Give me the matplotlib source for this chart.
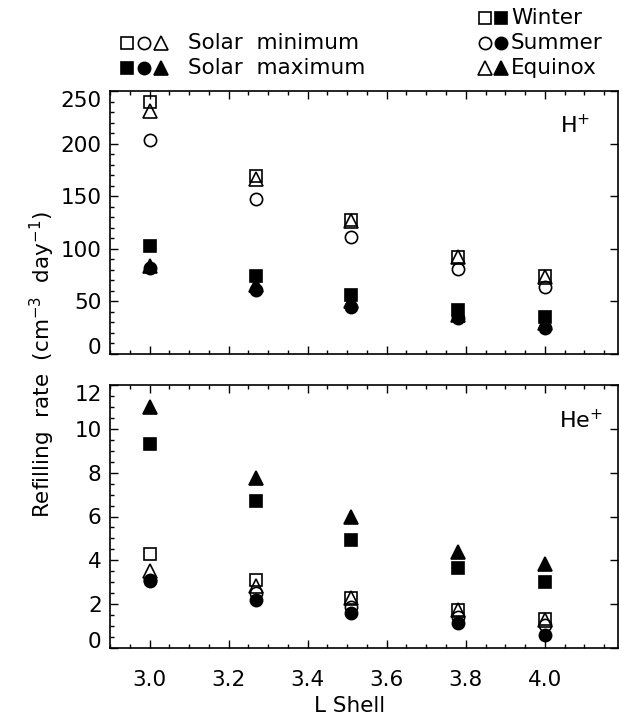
import numpy as np
import matplotlib.pyplot as plt
from matplotlib.lines import Line2D

# -------------------------------
# Data
# -------------------------------
l_shell = [3.0, 3.27, 3.51, 3.78, 4.0]

# H+ refilling rate (cm^-3 day^-1)
h_min_winter = [240, 169, 127, 92, 74]
h_min_summer = [203, 147, 111, 81, 64]
h_min_equinox = [231, 166, 126, 92, 73]
h_max_winter = [103, 74, 56, 42, 35]
h_max_summer = [82, 61, 45, 34, 25]
h_max_equinox = [84, 66, 50, 37, 29]

# He+ refilling rate (cm^-3 day^-1)
he_min_winter = [4.3, 3.1, 2.26, 1.73, 1.32]
he_min_summer = [3.1, 2.5, 1.88, 1.42, 1.05]
he_min_equinox = [3.5, 2.85, 2.3, 1.75, 1.3]
he_max_winter = [9.3, 6.7, 4.95, 3.65, 3.0]
he_max_summer = [3.05, 2.2, 1.58, 1.15, 0.6]
he_max_equinox = [11.0, 7.75, 6.0, 4.4, 3.85]

x_ticks = [3.0, 3.2, 3.4, 3.6, 3.8, 4.0]
x_tick_labels = ["3.0", "3.2", "3.4", "3.6", "3.8", "4.0"]

# -------------------------------
# Style
# -------------------------------
plt.rcParams["font.family"] = ["DejaVu Sans"]
plt.rcParams["font.size"] = 15.5
plt.rcParams["mathtext.fontset"] = "dejavusans"

W, H = 619, 727
fig = plt.figure(figsize=(W / 100, H / 100), dpi=100)

ax_h = fig.add_axes([110 / W, 1 - 354 / H, 508 / W, 263 / H])
ax_he = fig.add_axes([110 / W, 1 - 648 / H, 508 / W, 263 / H])

marker_kw = dict(linestyle="none", color="black", markeredgewidth=1.2)
ms = {"s": 8.5, "o": 8.8, "^": 9.5}


def draw(ax, mins, maxs):
    # open symbols = solar minimum, filled = solar maximum
    for vals, m in zip(mins, ["s", "o", "^"]):
        ax.plot(l_shell, vals, marker=m, markersize=ms[m],
                markerfacecolor="none", **marker_kw)
    for vals, m in zip(maxs, ["^", "s", "o"]):
        ax.plot(l_shell, vals, marker=m, markersize=ms[m],
                markerfacecolor="black", **marker_kw)


draw(ax_h, [h_min_winter, h_min_summer, h_min_equinox],
     [h_max_equinox, h_max_winter, h_max_summer])
draw(ax_he, [he_min_winter, he_min_summer, he_min_equinox],
     [he_max_equinox, he_max_winter, he_max_summer])

ax_h.set_ylim(0, 250)
ax_h.set_yticks(np.arange(0, 251, 50))
ax_h.set_yticks(np.arange(0, 251, 10), minor=True)
ax_he.set_ylim(0, 12)
ax_he.set_yticks(np.arange(0, 13, 2))
ax_he.set_yticks(np.arange(0, 12.01, 0.5), minor=True)

for ax in (ax_h, ax_he):
    ax.set_xlim(2.9, 4.185)
    ax.set_xticks(x_ticks)
    ax.set_xticks(np.arange(2.9, 4.19, 0.05), minor=True)
    ax.tick_params(which="both", direction="in", top=True, right=True,
                   width=1.0)
    ax.tick_params(which="major", length=6)
    ax.tick_params(which="minor", length=3, right=False)
    ax.tick_params(axis="y", pad=6)
    for sp in ax.spines.values():
        sp.set_linewidth(1.2)
    # end labels sit inside the axis range, as in the original
    yt = ax.yaxis.get_major_ticks()
    yt[0].label1.set_va("baseline")
    yt[-1].label1.set_va("top")

ax_h.set_xticklabels([])
ax_he.set_xticklabels(x_tick_labels)
ax_he.tick_params(axis="x", pad=16)

ax_h.text(0.945, 0.87, r"H$^{+}$", transform=ax_h.transAxes,
          ha="right", va="center", fontsize=16)
ax_he.text(0.97, 0.865, r"He$^{+}$", transform=ax_he.transAxes,
           ha="right", va="center", fontsize=16)

fig.text(350 / W, 1 - 706 / H, "L Shell", ha="center", va="center")
fig.text(42 / W, 1 - 365 / H,
         r"Refilling  rate  (cm$^{-3}$  day$^{-1}$)",
         rotation=90, ha="center", va="center")

# -------------------------------
# Key at the top
# -------------------------------
def key_marker(x, y, m, filled):
    fig.add_artist(Line2D([x / W], [1 - y / H], transform=fig.transFigure,
                          marker=m, markersize=ms[m],
                          markerfacecolor="black" if filled else "none",
                          **marker_kw))


row_y = [18, 43, 68]

for i, m in enumerate(["s", "o", "^"]):
    key_marker(127 + i * 17, row_y[1], m, False)
    key_marker(127 + i * 17, row_y[2], m, True)
fig.text(188 / W, 1 - row_y[1] / H, "Solar  minimum", va="center")
fig.text(188 / W, 1 - row_y[2] / H, "Solar  maximum", va="center")

for y, (m, name) in zip(row_y, [("s", "Winter"), ("o", "Summer"),
                                ("^", "Equinox")]):
    key_marker(485, y, m, False)
    key_marker(501, y, m, True)
    fig.text(511 / W, 1 - y / H, name, va="center")

fig.savefig("out.png", dpi=100)
